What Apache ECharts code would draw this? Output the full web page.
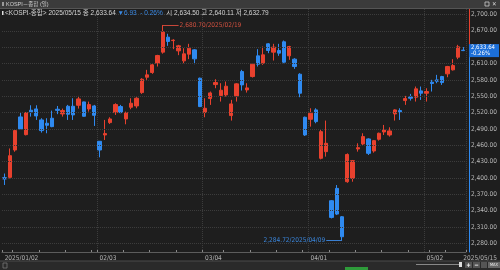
<!DOCTYPE html>
<html><head><meta charset="utf-8">
<script src="https://cdn.jsdelivr.net/npm/echarts@6/dist/echarts.min.js"></script>
<style>html,body{margin:0;padding:0;background:#1e1e1e;}#c{width:500px;height:270px;}</style>
</head><body><div id="c"></div>
<script>
// ---- data ----
const dates = [
 '2025/01/02','2025/01/03','2025/01/06','2025/01/07','2025/01/08','2025/01/09','2025/01/10','2025/01/13','2025/01/14','2025/01/15',
 '2025/01/16','2025/01/17','2025/01/20','2025/01/21','2025/01/22','2025/01/23','2025/01/24','2025/01/31',
 '2025/02/03','2025/02/04','2025/02/05','2025/02/06','2025/02/07','2025/02/10','2025/02/11','2025/02/12','2025/02/13','2025/02/14',
 '2025/02/17','2025/02/18','2025/02/19','2025/02/20','2025/02/21','2025/02/24','2025/02/25','2025/02/26','2025/02/27','2025/02/28',
 '2025/03/04','2025/03/05','2025/03/06','2025/03/07','2025/03/10','2025/03/11','2025/03/12','2025/03/13','2025/03/14',
 '2025/03/17','2025/03/18','2025/03/19','2025/03/20','2025/03/21','2025/03/24','2025/03/25','2025/03/26','2025/03/27','2025/03/28','2025/03/31',
 '2025/04/01','2025/04/02','2025/04/03','2025/04/04','2025/04/07','2025/04/08','2025/04/09','2025/04/10','2025/04/11',
 '2025/04/14','2025/04/15','2025/04/16','2025/04/17','2025/04/18','2025/04/21','2025/04/22','2025/04/23','2025/04/24','2025/04/25',
 '2025/04/28','2025/04/29','2025/04/30','2025/05/02','2025/05/07','2025/05/08','2025/05/09','2025/05/12','2025/05/13','2025/05/14','2025/05/15'
];
const opens = [
 2400.4,2401.0,2451.2,2511.9,2479.4,2524.2,2526.6,2506.4,2500.3,2509.5,
 2526.0,2517.4,2531.5,2531.5,2533.3,2539.5,2526.6,2532.1,
 2467.2,2478.8,2501.5,2519.9,2530.9,2508.2,2529.7,2532.1,2556.6,2584.8,
 2593.4,2610.5,2630.8,2658.3,2652.0,2633.2,2614.8,2627.1,2635.0,2583.0,
 2519.9,2545.6,2571.3,2551.1,2552.3,2514.4,2550.5,2595.2,2561.5,
 2586.0,2624.0,2610.5,2646.1,2630.8,2633.8,2649.8,2624.0,2617.9,2590.3,2511.3,
 2507.6,2524.8,2436.0,2448.2,2358.1,2380.8,2328.7,2393.0,2399.2,
 2453.1,2462.3,2471.5,2449.4,2470.9,2484.3,2478.8,2517.4,2523.6,2541.9,
 2548.7,2548.1,2559.7,2555.4,2575.6,2579.9,2586.0,2591.0,2598.3,2621.6,2634.50
];
const closes = [
 2398.0,2440.8,2486.8,2489.9,2519.9,2521.1,2513.7,2486.8,2496.6,2494.1,
 2524.0,2523.6,2516.8,2515.6,2545.0,2513.1,2534.6,2514.9,
 2451.2,2481.3,2508.2,2534.6,2519.9,2519.9,2537.0,2546.2,2581.1,2589.1,
 2607.5,2624.6,2668.1,2650.4,2652.8,2642.4,2627.7,2638.1,2618.5,2530.9,
 2527.8,2556.0,2575.0,2560.9,2568.3,2535.8,2572.6,2570.7,2565.2,
 2608.7,2608.7,2625.9,2633.8,2640.0,2629.0,2612.4,2641.2,2604.4,2555.4,2478.8,
 2518.7,2503.3,2484.9,2463.5,2327.5,2333.6,2292.0,2443.0,2431.6,
 2455.5,2475.8,2445.1,2468.4,2481.9,2488.0,2486.2,2524.8,2521.1,2545.6,
 2546.2,2563.4,2555.4,2558.5,2573.2,2577.5,2575.0,2604.4,2606.2,2640.57,2633.64
];
const lows = [
 2387.0,2399.0,2448.0,2488.0,2478.0,2512.5,2506.4,2483.1,2481.9,2493.0,
 2517.0,2512.5,2506.4,2506.4,2527.2,2512.5,2521.7,2495.4,
 2437.8,2469.6,2499.0,2515.6,2518.7,2498.4,2526.0,2527.8,2554.2,2579.9,
 2591.0,2604.4,2628.0,2642.4,2636.3,2625.3,2610.5,2617.9,2608.7,2530.0,
 2511.3,2534.0,2564.6,2540.1,2549.3,2505.2,2540.1,2560.3,2556.6,
 2584.2,2604.4,2607.5,2628.9,2615.4,2624.0,2610.5,2616.7,2600.1,2548.1,2477.0,
 2494.1,2500.3,2434.0,2439.0,2325.6,2331.8,2284.72,2391.0,2393.0,
 2448.2,2458.6,2442.0,2446.3,2468.4,2478.8,2475.8,2505.2,2506.4,2534.0,
 2541.9,2540.1,2543.2,2540.1,2558.5,2573.8,2570.7,2584.8,2597.1,2617.9,2632.79
];
const highs = [
 2408.0,2454.0,2489.0,2519.9,2521.0,2533.3,2533.3,2509.5,2509.5,2523.5,
 2532.0,2527.2,2534.0,2546.2,2550.5,2540.0,2540.0,2534.0,
 2467.5,2506.4,2511.3,2537.0,2534.0,2521.7,2546.2,2548.1,2583.0,2598.3,
 2609.3,2625.9,2680.70,2664.5,2654.5,2644.2,2638.1,2646.1,2636.3,2584.0,
 2546.2,2558.5,2581.1,2573.8,2576.9,2543.2,2573.8,2598.3,2573.8,
 2610.5,2636.3,2641.2,2647.3,2646.1,2646.1,2652.2,2642.4,2619.7,2592.2,2512.5,
 2527.8,2527.8,2488.0,2505.2,2359.3,2386.9,2330.0,2445.0,2432.9,
 2463.5,2481.9,2472.7,2469.6,2483.1,2497.2,2492.9,2526.0,2527.8,2550.5,
 2554.2,2567.7,2567.7,2564.6,2580.0,2589.1,2587.3,2605.6,2617.9,2644.2,2640.11
];
const yTicks = [2280,2310,2340,2370,2400,2430,2460,2490,2520,2550,2580,2610,2640,2670,2700];
const monthStarts = ['2025/02/03','2025/03/04','2025/04/01','2025/05/02'];
const weekStarts = ['2025/01/02','2025/01/06','2025/01/13','2025/01/20','2025/01/31','2025/02/03','2025/02/10','2025/02/17','2025/02/24',
 '2025/03/04','2025/03/10','2025/03/17','2025/03/24','2025/03/31','2025/04/07','2025/04/14','2025/04/21','2025/04/28','2025/05/07','2025/05/12'];
const Y_MIN = 2264, Y_MAX = 2710;

// ---- chart ----
const UP = '#e8412e', DN = '#2f8af0';
const GRID_TOP = 9, GRID_BOTTOM = 18, H = 270;
const FONT = "'Liberation Sans Narrow','DejaVu Sans Condensed','Liberation Sans',sans-serif";
const KFONT = "'Liberation Sans Narrow','Liberation Sans','Noto Sans CJK KR',sans-serif";
const fmt = v => v.toLocaleString('en-US', {minimumFractionDigits: 2, maximumFractionDigits: 2});
const ohlc = dates.map((d, i) => [opens[i], closes[i], lows[i], highs[i]]);
const last = dates.length - 1;
const hiIdx = highs.indexOf(Math.max(...highs));
const loIdx = lows.indexOf(Math.min(...lows));
const chg = closes[last] - closes[last - 1];
const pct = chg / closes[last - 1] * 100;
const frac = (Y_MAX - closes[last]) / (Y_MAX - Y_MIN);
const labelIdx = [0, last].concat(monthStarts.map(d => dates.indexOf(d)));
const monthIdx = monthStarts.map(d => dates.indexOf(d));
const weekIdx = weekStarts.map(d => dates.indexOf(d));
const pctText = (pct < 0 ? '-' : '+') + Math.abs(pct).toFixed(2) + '%';

const chart = echarts.init(document.getElementById('c'), null, {renderer: 'canvas', width: 500, height: 270});
chart.setOption({
  backgroundColor: '#1e1e1e',
  animation: false,
  grid: {left: 2, right: 29, top: GRID_TOP, bottom: GRID_BOTTOM},
  xAxis: {
    type: 'category', data: dates, boundaryGap: true,
    axisLine: {lineStyle: {color: '#5c5c5c'}},
    axisTick: {show: true, inside: true, length: 2, interval: i => weekIdx.includes(i), lineStyle: {color: '#8a8a8a'}},
    axisLabel: {interval: i => labelIdx.includes(i), align: 'left', margin: 3, fontSize: 6.5, color: '#b4b4b4', fontFamily: FONT,
      formatter: (v, i) => (i === 0 || i === last) ? v : v.slice(5)},
    splitLine: {show: true, interval: i => monthIdx.includes(i), lineStyle: {color: '#3c3c3c', type: 'dotted'}}
  },
  yAxis: {
    type: 'value', position: 'right', min: Y_MIN, max: Y_MAX, offset: 3,
    axisLine: {show: true, lineStyle: {width: 1, color: {type: 'linear', global: true,
      x: 0, y: GRID_TOP, x2: 0, y2: H - GRID_BOTTOM, colorStops: [
      {offset: 0, color: UP}, {offset: frac, color: UP}, {offset: frac, color: DN}, {offset: 1, color: DN}]}}},
    axisTick: {show: false}, splitLine: {show: false},
    axisLabel: {customValues: yTicks, formatter: v => fmt(v), fontSize: 6.5, color: '#b8b8b8', margin: 2, fontFamily: FONT}
  },
  series: [
    {type: 'line', data: [], z: 1, silent: true,
     markLine: {silent: true, symbol: 'none', animation: false, label: {show: false},
       lineStyle: {color: '#3c3c3c', type: 'dotted', width: 1}, data: yTicks.map(v => ({yAxis: v}))}},
    {type: 'candlestick', data: ohlc, z: 2, barWidth: '72%',
     itemStyle: {color: UP, color0: DN, borderColor: UP, borderColor0: DN, borderWidth: 1},
     markLine: {silent: true, symbol: 'none', animation: false,
       data: [
         [{coord: [dates[hiIdx], highs[hiIdx]], lineStyle: {color: '#c8473a', width: 1, type: 'solid'},
           label: {show: true, position: 'end', distance: 1, color: '#d0503f', fontSize: 6.5, fontFamily: FONT,
             formatter: fmt(highs[hiIdx]) + '/' + dates[hiIdx]}},
          {coord: [dates[hiIdx + 3], highs[hiIdx]]}],
         [{coord: [dates[loIdx], lows[loIdx]], lineStyle: {color: '#3a7fd0', width: 1, type: 'solid'},
           label: {show: true, position: 'end', distance: 1, color: '#3a86dc', fontSize: 6.5, fontFamily: FONT,
             formatter: fmt(lows[loIdx]) + '/' + dates[loIdx]}},
          {coord: [dates[loIdx - 3], lows[loIdx]]}]
       ]}},
    {type: 'line', data: [], z: 5, silent: true,
     markLine: {silent: true, symbol: 'none', animation: false,
       lineStyle: {color: 'rgba(0,0,0,0)', width: 0.01},
       label: {show: true, position: 'end', distance: 3, color: '#ffffff', backgroundColor: '#1c6fd8',
         fontSize: 6, lineHeight: 6, padding: [1, 4, 0, 2], fontFamily: FONT, align: 'left',
         formatter: fmt(closes[last]) + '\n' + pctText},
       data: [{yAxis: closes[last]}]}}
  ],
  graphic: [
    {type: 'rect', shape: {x: 0, y: 0, width: 500, height: 8}, style: {fill: '#3b3b3b'}, z: 10},
    {type: 'rect', shape: {x: 0, y: 8, width: 500, height: 1}, style: {fill: '#555'}, z: 10},
    {type: 'rect', shape: {x: 2, y: 2, width: 2, height: 4}, style: {fill: '#999'}, z: 11},
    {type: 'text', x: 6, y: 4, style: {text: 'KOSPI－종합 (일)', fill: '#cfcfcf', font: '5.5px ' + KFONT, textVerticalAlign: 'middle'}, z: 11},
    {type: 'rect', shape: {x: 485, y: 2, width: 4, height: 4}, style: {fill: 'none', stroke: '#ccc', lineWidth: 0.8}, z: 11},
    {type: 'text', x: 492, y: 4, style: {text: '✕', fill: '#ddd', font: '6px ' + FONT, textVerticalAlign: 'middle'}, z: 11},
    {type: 'rect', shape: {x: 2, y: 11, width: 1.5, height: 4}, style: {fill: '#ddd'}, z: 11},
    {type: 'text', x: 5, y: 13, z: 11, style: {
      text: '{g|<KOSPI-종합> ' + dates[last] + ' 종 ' + fmt(closes[last]) + '} {b|' + (chg < 0 ? '▼' : '▲') + Math.abs(chg).toFixed(2) + '  ' + (pct < 0 ? '-' : '+') + ' ' + Math.abs(pct).toFixed(2) + '%} {g| 시 ' + fmt(opens[last]) + ' 고 ' + fmt(highs[last]) + ' 저 ' + fmt(lows[last]) + '}',
      textVerticalAlign: 'middle', font: '6.5px ' + KFONT,
      rich: {g: {fill: '#d2d2d2', font: '6.5px ' + KFONT}, b: {fill: '#3a8ae6', font: '6.5px ' + KFONT}}}},
    {type: 'rect', shape: {x: 0, y: 261, width: 500, height: 9}, style: {fill: '#2a2a2a'}, z: 10},
    {type: 'rect', shape: {x: 0, y: 260.5, width: 500, height: 1}, style: {fill: '#4a4a4a'}, z: 10},
    {type: 'rect', shape: {x: 3, y: 263, width: 4, height: 5}, style: {fill: 'none', stroke: '#777', lineWidth: 0.8}, z: 11},
    {type: 'rect', shape: {x: 345, y: 267, width: 23, height: 3}, style: {fill: '#2e9b3a'}, z: 11},
    {type: 'rect', shape: {x: 416, y: 264, width: 46, height: 1}, style: {fill: '#888'}, z: 11},
    {type: 'rect', shape: {x: 459, y: 262, width: 3, height: 5}, style: {fill: '#ddd'}, z: 11},
    {type: 'rect', shape: {x: 465, y: 262, width: 7, height: 6}, style: {fill: '#555'}, z: 11},
    {type: 'text', x: 468.5, y: 265, style: {text: '+', fill: '#fff', font: 'bold 6px ' + FONT, textAlign: 'center', textVerticalAlign: 'middle'}, z: 12},
    {type: 'rect', shape: {x: 473, y: 262, width: 7, height: 6}, style: {fill: '#555'}, z: 11},
    {type: 'text', x: 476.5, y: 265, style: {text: '−', fill: '#fff', font: 'bold 6px ' + FONT, textAlign: 'center', textVerticalAlign: 'middle'}, z: 12},
    {type: 'rect', shape: {x: 481, y: 262, width: 6, height: 6}, style: {fill: '#555'}, z: 11},
    {type: 'rect', shape: {x: 488, y: 262, width: 12, height: 6}, style: {fill: '#666'}, z: 11},
    {type: 'text', x: 494, y: 265, style: {text: 'MAX', fill: '#eee', font: '4px ' + FONT, textAlign: 'center', textVerticalAlign: 'middle'}, z: 12}
  ]
});
</script></body></html>
